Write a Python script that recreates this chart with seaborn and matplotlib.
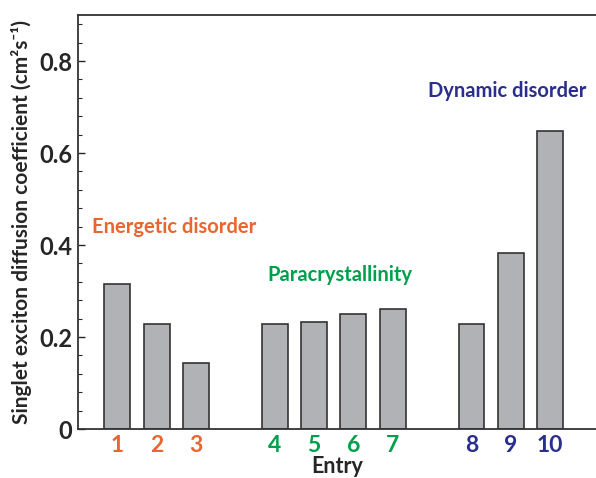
import numpy as np
import pandas as pd
import seaborn as sns
import matplotlib.pyplot as plt
from matplotlib.ticker import MultipleLocator

# data
entries = ["1", "2", "3", "4", "5", "6", "7", "8", "9", "10"]
positions = [1, 2, 3, 5, 6, 7, 8, 10, 11, 12]
diffusion = [0.315, 0.228, 0.143, 0.228, 0.232, 0.251, 0.260, 0.228, 0.383, 0.648]
groups = ["energetic"] * 3 + ["para"] * 4 + ["dynamic"] * 3

group_colors = {"energetic": "#E8662F", "para": "#00A04B", "dynamic": "#2A2E8C"}
group_labels = {"energetic": "Energetic disorder",
                "para": "Paracrystallinity",
                "dynamic": "Dynamic disorder"}

df = pd.DataFrame({"pos": positions, "D": diffusion, "entry": entries, "group": groups})

sns.set_theme(style="white")
plt.rcParams["font.family"] = ["Lato", "DejaVu Sans"]
plt.rcParams["font.weight"] = "bold"

fig = plt.figure(figsize=(5.96, 4.78), dpi=100)
ax = fig.add_axes([0.131, 0.1025, 0.87, 0.866])

sns.barplot(data=df, x="pos", y="D", native_scale=True, width=0.66,
            color="#B1B2B5", edgecolor="#333333", linewidth=1.2,
            saturation=1, ax=ax)

ax.set_xlim(0, 13.18)
ax.set_ylim(0, 0.9)

ax.set_xticks(positions)
ax.set_xticklabels(entries, fontsize=16.5, fontweight="bold")
for lab, g in zip(ax.get_xticklabels(), groups):
    lab.set_color(group_colors[g])
ax.tick_params(axis="x", length=0, pad=4)

ax.yaxis.set_major_locator(MultipleLocator(0.2))
ax.yaxis.set_minor_locator(MultipleLocator(0.04))
ax.set_yticks([0, 0.2, 0.4, 0.6, 0.8])
ax.set_yticklabels(["0", "0.2", "0.4", "0.6", "0.8"], fontsize=17, fontweight="bold")
ax.tick_params(axis="y", which="major", direction="in", length=5, width=1, left=True, pad=4)
ax.tick_params(axis="y", which="minor", direction="in", length=3, width=0.8, left=True)

for side in ["left", "bottom", "top"]:
    ax.spines[side].set_color("#333333")
    ax.spines[side].set_linewidth(1.3)
ax.spines["right"].set_visible(False)

ax.set_xlabel("Entry", fontsize=15.5, fontweight="bold", labelpad=0.5)
ax.set_ylabel("Singlet exciton diffusion coefficient (cm²s⁻¹)",
              fontsize=15, fontweight="bold", labelpad=5)

# group annotations
ax.text(0.35, 0.44, group_labels["energetic"], color=group_colors["energetic"],
        fontsize=14.5, fontweight="bold", va="center", ha="left")
ax.text(4.8, 0.335, group_labels["para"], color=group_colors["para"],
        fontsize=14.5, fontweight="bold", va="center", ha="left")
ax.text(8.9, 0.735, group_labels["dynamic"], color=group_colors["dynamic"],
        fontsize=14.5, fontweight="bold", va="center", ha="left")

plt.savefig("out.png", dpi=100)
